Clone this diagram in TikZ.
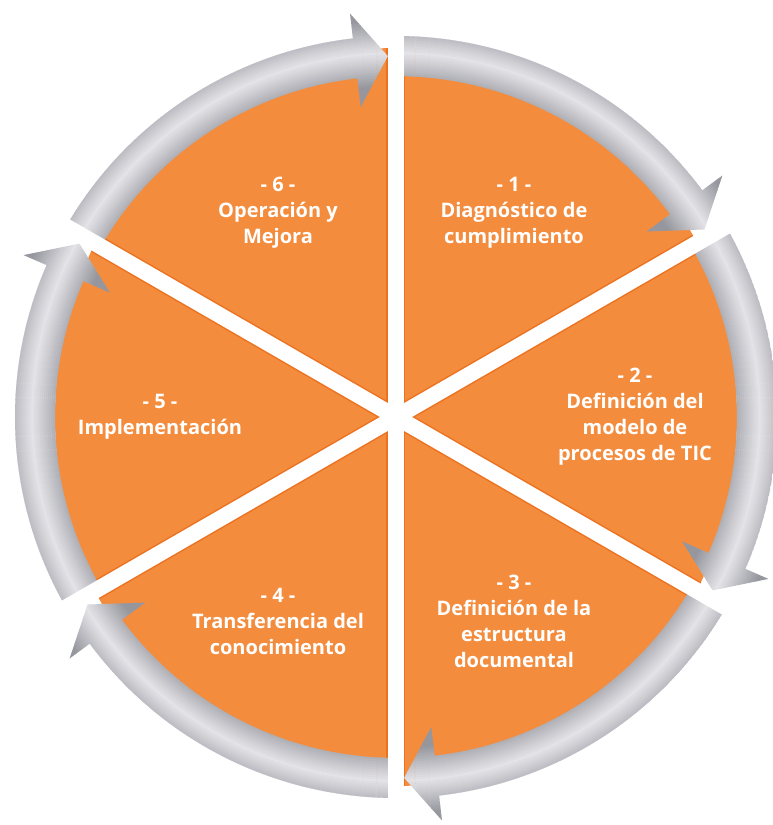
\documentclass[tikz,border=0pt]{standalone}
\usepackage{fontspec}
\setmainfont{Open Sans}
\usetikzlibrary{calc}
\definecolor{stageorange}{RGB}{244,140,62}
\definecolor{stageedge}{RGB}{236,114,32}
\definecolor{metaldark}{RGB}{150,150,158}
\definecolor{metallight}{RGB}{228,228,232}

\begin{document}
\begin{tikzpicture}[
    x=1pt, y=1pt,
    stage/.style={text=white, align=center, font=\fontsize{20}{26}\selectfont\bfseries},
    gapedge/.style={stageedge, line width=19pt},
    gap/.style={white, line width=16pt},
]
    \useasboundingbox (-396,-408) rectangle (377,417);

    \fill[stageorange] (0,0) ellipse [x radius=341pt, y radius=369pt];
    \begin{scope}
        \clip (0,0) ellipse [x radius=341pt, y radius=369pt];
        \foreach \a in {90,30,150}
            \draw[gapedge] (\a:425) -- ({\a+180}:425);
    \end{scope}

    \begin{scope}
        \clip \foreach \g in {90,30,-30,-90,-150,150} {
            ({\g+59.5}:381) arc[start angle={\g+59.5}, end angle={\g+6.5}, radius=381pt]
            -- ({\g+6.5}:406) -- ({\g+1.3}:361) -- ({\g+6.5}:312) -- ({\g+6.5}:341)
            arc[start angle={\g+6.5}, end angle={\g+59.5}, radius=341pt] -- cycle
        };
        \foreach \r in {300,302,...,420} {
            \pgfmathsetmacro\p{max(0,min(100,100-abs(\r-364)*3))}
            \draw[metallight!\p!metaldark, line width=2.4pt] (0,0) circle (\r pt);
        }
    \end{scope}

    \foreach \a in {90,30,150}
        \draw[gap] (\a:425) -- ({\a+180}:425);

    \node[stage] (s1) at (60:236) {- 1 -\\Diagnóstico de\\cumplimiento};
    \node[stage] (s2) at (0:239) {- 2 -\\Definición del\\modelo de\\procesos de TIC};
    \node[stage] (s3) at (-60:236) {- 3 -\\Definición de la\\estructura\\documental};
    \node[stage] (s4) at (-120:236) {- 4 -\\Transferencia del\\conocimiento};
    \node[stage] (s5) at (180:236) {- 5 -\\Implementación};
    \node[stage] (s6) at (120:236) {- 6 -\\Operación y\\Mejora};
\end{tikzpicture}
\end{document}
